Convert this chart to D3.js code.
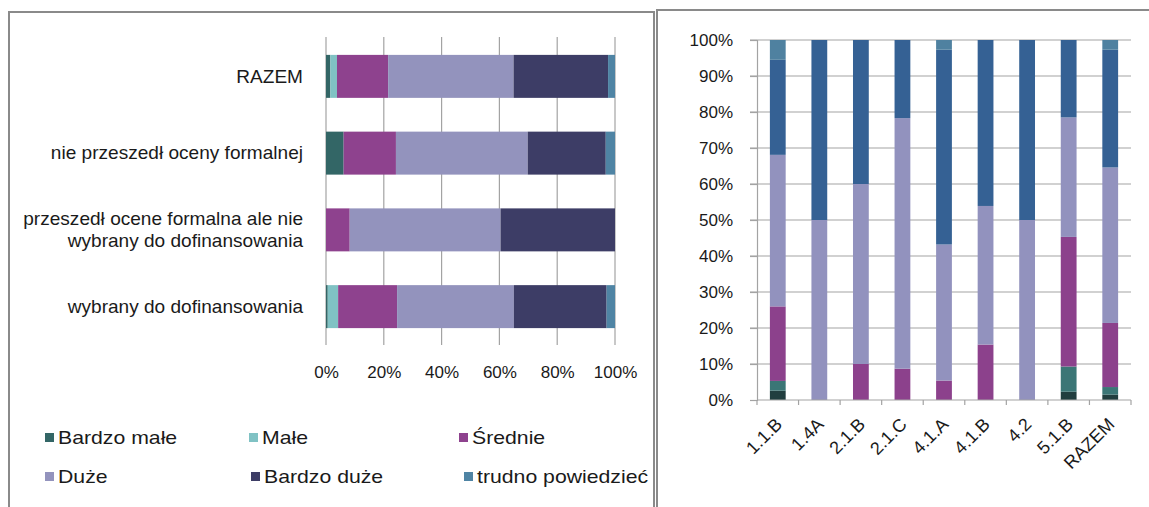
<!DOCTYPE html>
<html>
<head>
<meta charset="utf-8">
<script src="https://cdn.jsdelivr.net/npm/d3@7"></script>
<style>
  html, body { margin: 0; padding: 0; background: #fff; }
  svg text { font-family: "Liberation Sans", Arial, sans-serif; fill: #1a1a1a; }
</style>
</head>
<body>
<svg id="chart" width="1149" height="507"></svg>
<script>
// ---------- DATA ----------
const seriesNames = ["Bardzo małe", "Małe", "Średnie", "Duże", "Bardzo duże", "trudno powiedzieć"];

// Left chart (horizontal 100% stacked)
const leftCategories = ["RAZEM", "nie przeszedł oceny formalnej", "przeszedł ocene formalna ale nie wybrany do dofinansowania", "wybrany do dofinansowania"];
const leftCategoryLines = [["RAZEM"], ["nie przeszedł oceny formalnej"], ["przeszedł ocene formalna ale nie", "wybrany do dofinansowania"], ["wybrany do dofinansowania"]];
const leftBardzoMale  = [1.5, 6.1, 0, 0.6];
const leftMale        = [2.3, 0, 0, 3.6];
const leftSrednie     = [17.7, 18.1, 8.2, 20.4];
const leftDuze        = [43.4, 45.6, 52.2, 40.4];
const leftBardzoDuze  = [32.7, 27.0, 39.6, 32.1];
const leftTrudno      = [2.4, 3.2, 0, 2.9];
const leftTicks = ["0%", "20%", "40%", "60%", "80%", "100%"];

// Right chart (vertical 100% stacked)
const rightCategories = ["1.1.B", "1.4A", "2.1.B", "2.1.C", "4.1.A", "4.1.B", "4.2", "5.1.B", "RAZEM"];
const rightBardzoMale = [2.6, 0, 0, 0, 0, 0, 0, 2.3, 1.5];
const rightMale       = [2.7, 0, 0, 0, 0, 0, 0, 7.0, 2.1];
const rightSrednie    = [20.7, 0, 10, 8.7, 5.4, 15.4, 0, 36.0, 17.8];
const rightDuze       = [42.1, 50, 50, 69.6, 37.8, 38.5, 50, 33.2, 43.2];
const rightBardzoDuze = [26.4, 50, 40, 21.7, 54.1, 46.1, 50, 21.5, 32.7];
const rightTrudno     = [5.5, 0, 0, 0, 2.7, 0, 0, 0, 2.7];
const rightTicks = ["0%", "10%", "20%", "30%", "40%", "50%", "60%", "70%", "80%", "90%", "100%"];

// ---------- STYLE ----------
const leftColors  = ["#336666", "#80c2c4", "#8e428e", "#9393bd", "#3d3d66", "#4f84a4"];
const rightColors = ["#213e3f", "#3b7676", "#8c418c", "#9292be", "#356194", "#4f81a0"];
const gridColor = "#a3a3a3";
const borderColor = "#8a8a8a";

const svg = d3.select("#chart");
svg.append("rect").attr("width", 1149).attr("height", 507).attr("fill", "#fff");

// Panel borders
svg.append("rect").attr("x", 9).attr("y", 12).attr("width", 645).attr("height", 600)
  .attr("fill", "none").attr("stroke", borderColor).attr("stroke-width", 2);
svg.append("rect").attr("x", 657).attr("y", 10).attr("width", 600).attr("height", 600)
  .attr("fill", "none").attr("stroke", borderColor).attr("stroke-width", 2);

function buildRows(cats, arrays) {
  return cats.map((c, i) => {
    const o = { cat: c };
    seriesNames.forEach((s, j) => { o[s] = arrays[j][i]; });
    return o;
  });
}

// ---------- LEFT CHART ----------
const leftRows = buildRows(leftCategories, [leftBardzoMale, leftMale, leftSrednie, leftDuze, leftBardzoDuze, leftTrudno]);
const leftStack = d3.stack().keys(seriesNames)(leftRows);

const xL = d3.scaleLinear().domain([0, 100]).range([326, 615]);
const yL = d3.scaleBand().domain(leftCategories).range([38, 345]).paddingInner(0.44).paddingOuter(0.22);

const gL = svg.append("g");
// gridlines
gL.append("g").selectAll("line").data(d3.range(0, 101, 20)).join("line")
  .attr("x1", d => xL(d)).attr("x2", d => xL(d))
  .attr("y1", 37).attr("y2", 345)
  .attr("stroke", gridColor).attr("stroke-width", 1.2);

gL.append("g").selectAll("g").data(leftStack).join("g")
  .attr("fill", (d, i) => leftColors[i])
  .selectAll("rect").data(d => d).join("rect")
  .attr("x", d => xL(d[0]))
  .attr("width", d => Math.max(0, xL(d[1]) - xL(d[0])))
  .attr("y", d => yL(d.data.cat))
  .attr("height", yL.bandwidth());

// x axis labels
const xAxisL = d3.axisBottom(xL).tickValues(d3.range(0, 101, 20))
  .tickFormat((d, i) => leftTicks[i]).tickSize(0).tickPadding(0);
const axL = gL.append("g").attr("transform", "translate(0,366)").call(xAxisL);
axL.select(".domain").remove();
axL.selectAll("text").attr("font-size", 17).attr("dy", "0.71em")
  .style("font-family", "'Liberation Sans', Arial, sans-serif").attr("fill", "#1a1a1a");

// category labels
leftCategories.forEach((c, i) => {
  const lines = leftCategoryLines[i];
  const cy = yL(c) + yL.bandwidth() / 2;
  const lh = 22;
  const t = gL.append("text").attr("text-anchor", "end").attr("font-size", 18)
    .attr("transform", `translate(303,${cy}) scale(1.06,1)`);
  lines.forEach((ln, k) => {
    t.append("tspan").attr("x", 0)
      .attr("y", (k - (lines.length - 1) / 2) * lh)
      .attr("dy", "0.35em").text(ln);
  });
});

// legend
const legendPos = [[45, 438], [249, 438], [459, 438], [45, 477], [251, 477], [464, 477]];
const lg = svg.append("g").selectAll("g").data(seriesNames).join("g")
  .attr("transform", (d, i) => `translate(${legendPos[i][0]},${legendPos[i][1]})`);
lg.append("rect").attr("x", 0).attr("y", -5).attr("width", 9).attr("height", 9)
  .attr("fill", (d, i) => leftColors[i]);
lg.append("text").attr("transform", "translate(13,0) scale(1.18,1)").attr("dy", "0.35em")
  .attr("font-size", 18).text(d => d);

// ---------- RIGHT CHART ----------
const rightRows = buildRows(rightCategories, [rightBardzoMale, rightMale, rightSrednie, rightDuze, rightBardzoDuze, rightTrudno]);
const rightStack = d3.stack().keys(seriesNames)(rightRows);

const xR = d3.scaleBand().domain(rightCategories).range([757, 1131]).paddingInner(0.62).paddingOuter(0.31);
const yR = d3.scaleLinear().domain([0, 100]).range([400, 40]);

const gR = svg.append("g");
// horizontal gridlines
gR.append("g").selectAll("line").data(d3.range(10, 101, 10)).join("line")
  .attr("x1", 750).attr("x2", 1131)
  .attr("y1", d => yR(d)).attr("y2", d => yR(d))
  .attr("stroke", gridColor).attr("stroke-width", 1.2);

// y axis
const yAxisR = d3.axisLeft(yR).tickValues(d3.range(0, 101, 10))
  .tickFormat((d, i) => rightTicks[i]).tickSize(7).tickPadding(17);
const ayR = gR.append("g").attr("transform", "translate(757,0)").call(yAxisR);
ayR.select(".domain").attr("stroke", gridColor).attr("stroke-width", 1.2);
ayR.selectAll(".tick line").attr("stroke", gridColor).attr("stroke-width", 1.2);
ayR.selectAll("text").attr("font-size", 17)
  .style("font-family", "'Liberation Sans', Arial, sans-serif").attr("fill", "#1a1a1a");

gR.append("g").selectAll("g").data(rightStack).join("g")
  .attr("fill", (d, i) => rightColors[i])
  .selectAll("rect").data(d => d).join("rect")
  .attr("x", d => xR(d.data.cat))
  .attr("width", xR.bandwidth())
  .attr("y", d => yR(d[1]))
  .attr("height", d => Math.max(0, yR(d[0]) - yR(d[1])));

// x axis line and boundary ticks
gR.append("line").attr("x1", 757).attr("x2", 1131).attr("y1", 400).attr("y2", 400)
  .attr("stroke", gridColor).attr("stroke-width", 1.2);
const boundaries = rightCategories.map(c => xR(c) - xR.step() * xR.paddingInner() / 2);
boundaries.push(1131);
gR.append("g").selectAll("line").data(boundaries).join("line")
  .attr("x1", d => d).attr("x2", d => d).attr("y1", 400).attr("y2", 405)
  .attr("stroke", gridColor).attr("stroke-width", 1.2);

// rotated category labels
gR.append("g").selectAll("text").data(rightCategories).join("text")
  .attr("text-anchor", "end").attr("font-size", 18)
  .attr("transform", d => `translate(${xR(d) + xR.bandwidth() / 2 + 1},${421}) rotate(-45)`)
  .attr("dy", "0.35em")
  .text(d => d);
</script>
</body>
</html>
